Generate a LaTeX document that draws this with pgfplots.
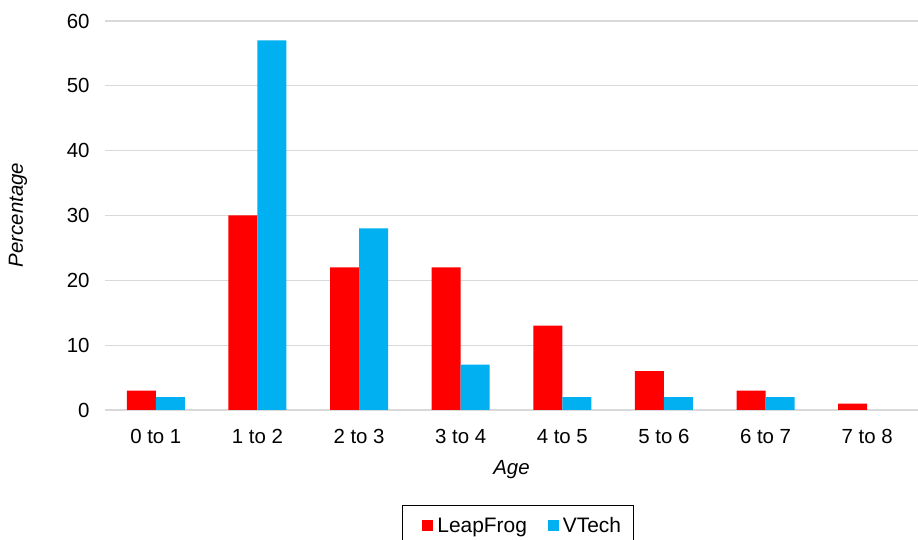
\documentclass[border=0pt]{standalone}
\usepackage{pgfplots}
\pgfplotsset{compat=1.18}
\usepackage{fontspec}
\setmainfont{Liberation Sans}
\definecolor{lfred}{RGB}{255,0,0}
\definecolor{vtblue}{RGB}{0,176,240}
\definecolor{gridgray}{RGB}{217,217,217}
\begin{document}
\begin{tikzpicture}
\useasboundingbox (0bp,0bp) rectangle (918bp,540bp);
\begin{axis}[
  at={(105bp,130bp)}, anchor=south west,
  scale only axis, width=813bp, height=389bp,
  xmin=-0.5, xmax=7.5, ymin=0, ymax=60,
  ytick={0,10,...,60},
  xtick={0,...,7},
  xticklabels={0 to 1,1 to 2,2 to 3,3 to 4,4 to 5,5 to 6,6 to 7,7 to 8},
  axis line style={draw=none},
  major tick length=0pt,
  ymajorgrids, grid style={gridgray, line width=1.2bp},
  ybar=0pt, bar width=29bp,
  /pgf/number format/assume math mode=true,
  tick label style={font=\fontsize{20.5}{22}\selectfont, text=black},
  yticklabel style={xshift=-12bp},
  xticklabel style={yshift=-16bp},
  xlabel={\itshape Age},
  ylabel={\itshape Percentage},
  label style={font=\fontsize{20.5}{22}\selectfont, text=black},
  xlabel style={at={(axis description cs:0.5,-0.154)}, anchor=center},
  ylabel style={at={(axis description cs:-0.107,0.501)}, anchor=center, rotate=0},
  legend columns=2,
  legend style={at={(axis description cs:0.3653,-0.2442)}, anchor=north west,
    draw=black, line width=0.8bp, font=\fontsize{21}{23}\selectfont,
    inner xsep=10bp, inner ysep=10bp,
    /tikz/every even column/.append style={column sep=9bp}},
  legend image code/.code={\path (-10bp,0bp); \fill[#1] (0bp,-5.5bp) rectangle (11bp,5.5bp); \path (13bp,0bp);},
]
\addplot[fill=lfred, draw=none] coordinates {(0,3) (1,30) (2,22) (3,22) (4,13) (5,6) (6,3) (7,1)};
\addplot[fill=vtblue, draw=none] coordinates {(0,2) (1,57) (2,28) (3,7) (4,2) (5,2) (6,2) (7,0)};
\legend{LeapFrog, VTech}
\end{axis}
\end{tikzpicture}
\end{document}
